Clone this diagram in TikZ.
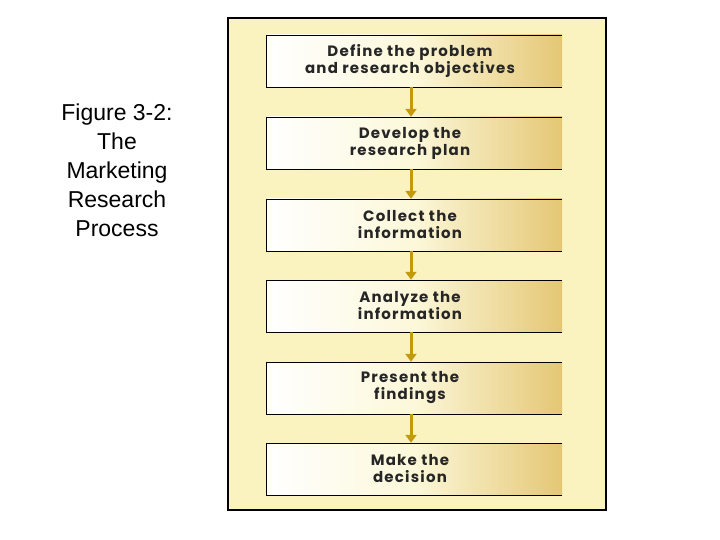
\documentclass[tikz,border=0pt]{standalone}
\usepackage{fontspec}
\setmainfont{Liberation Sans}
\newfontfamily\boxfont[LetterSpace=8]{Poppins}
\usetikzlibrary{arrows.meta}
\definecolor{panel}{HTML}{FAF3C0}
\definecolor{gold}{HTML}{E4C775}
\definecolor{arrowc}{HTML}{C39A0C}
\tikzset{
  x=1pt,y=-1pt,
  stepbox/.style={minimum width=295pt,minimum height=52pt,inner sep=0pt,
    shade,left color=white,right color=gold,middle color=panel!60!white},
  steptext/.style={font=\boxfont\bfseries\fontsize{15}{17}\selectfont,align=center,text=black!85,inner sep=0pt},
  flow/.style={draw=arrowc,line width=3pt,-{Triangle[length=8pt,width=11pt]}}
}
\begin{document}
\begin{tikzpicture}
\useasboundingbox (0,0) rectangle (720,540);
\node[draw=black,line width=1.6pt,fill=panel,minimum width=378pt,minimum height=492pt,inner sep=0pt] (frame) at (417,264) {};
\node[align=center,font=\fontsize{23}{29}\selectfont] (title) at (117,170) {Figure 3-2:\\The\\Marketing\\Research\\Process};
\foreach \i/\t/\y in {1/{Define the problem\\and research objectives}/61,
  2/{Develop the\\research plan}/143,
  3/{Collect the\\information}/225,
  4/{Analyze the\\information}/306,
  5/{Present the\\findings}/388,
  6/{Make the\\decision}/469}{
  \node[stepbox] (b\i) at (414.5,\y) {};
  \node[steptext] (t\i) at (410,\y) {\t};
  \draw[black,line width=0.5pt] (b\i.north west) -- (b\i.north east);
  \draw[black,line width=1.3pt] (b\i.north west) -- (b\i.south west) -- (b\i.south east);
}
\foreach \a/\b in {1/2,2/3,3/4,4/5,5/6}{
  \draw[flow] ([xshift=-3.5pt]b\a.south) -- ([xshift=-3.5pt]b\b.north);
}
\end{tikzpicture}
\end{document}
